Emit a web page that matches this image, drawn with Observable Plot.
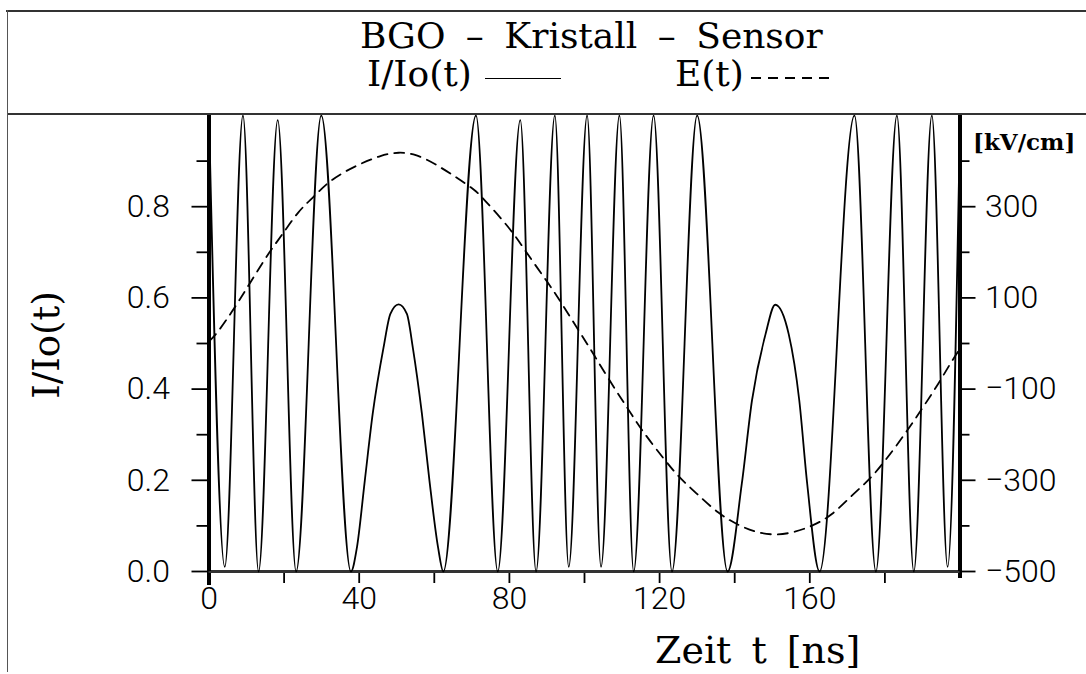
<!DOCTYPE html>
<html>
<head>
<meta charset="utf-8">
<script src="https://cdn.jsdelivr.net/npm/d3@7"></script>
<script src="https://cdn.jsdelivr.net/npm/@observablehq/plot@0.6"></script>
<style>
  body { margin: 0; background: #fff; }
  #wrap { position: relative; width: 1086px; height: 674px; background: #fff; overflow: hidden; }
  .abs { position: absolute; white-space: nowrap; }
  .serif { font-family: "DejaVu Serif", serif; color: #000; line-height: 1; }
</style>
</head>
<body>
<div id="wrap">
  <div id="plot" class="abs" style="left:0;top:0"></div>
  <!-- header frame -->
  <div class="abs" style="left:6px;top:10px;width:1080px;height:0;border-top:2px solid #333"></div>
  <div class="abs" style="left:7px;top:113px;width:1079px;height:0;border-top:2px solid #333"></div>
  <div class="abs" style="left:7px;top:10px;width:0;height:662px;border-left:1px solid #555"></div>
  <!-- title -->
  <div class="abs serif" style="left:360px;top:18px;font-size:36px;word-spacing:9px">BGO – Kristall – Sensor</div>
  <div class="abs serif" style="left:367px;top:56px;font-size:36px">I/Io(t)</div>
  <div class="abs" style="left:485px;top:78px;width:76px;height:0;border-top:1.6px solid #000"></div>
  <div class="abs serif" style="left:675px;top:56px;font-size:36px">E(t)</div>
  <div class="abs" style="left:751px;top:77px;width:80px;height:2px;background:repeating-linear-gradient(90deg,#000 0 10px,transparent 10px 17px)"></div>
  <!-- axis titles -->
  <div class="abs serif" style="left:655px;top:631px;font-size:38px;word-spacing:8px">Zeit t [ns]</div>
  <div class="abs" style="left:46px;top:345px;width:0;height:0">
    <span class="abs serif" style="left:0;top:0;font-size:37px;transform:translate(-50%,-50%) rotate(-90deg);transform-origin:center">I/Io(t)</span>
  </div>
  <div class="abs serif" style="left:973px;top:130px;font-size:23px;font-weight:bold">[kV/cm]</div>
</div>
<script>
// ---- data ----
// I/Io(t): time [ns] and normalized intensity
const tI = [0, 4.2, 9.05, 13.2, 18.3, 23.2, 29.9, 37.8, 39.4, 41.5, 43.6, 46.5, 48.3, 50.5, 52.7, 54.3, 56.7, 58.7, 61.0, 62.4,
            71.1, 76.9, 82.9, 87.1, 92.1, 95.8, 100.7, 104.4, 109.3, 113.1, 118.4, 123.3, 130.0, 138.1,
            141.9, 144.6, 148.2, 150.8, 154.4, 157.2, 159.3, 162.6, 171.9, 177.6, 183.2, 187.7, 192.5, 196.7, 200];
const I  = [1.0, 0.01, 1.0, 0.0, 0.99, 0.0, 1.0, 0.0, 0.053, 0.2, 0.346, 0.492, 0.565, 0.586, 0.565, 0.49, 0.346, 0.2, 0.053, 0.0,
            1.0, 0.0, 0.99, 0.0, 1.0, 0.01, 1.0, 0.01, 1.0, 0.0, 1.0, 0.0, 1.0, 0.0,
            0.193, 0.375, 0.52, 0.585, 0.52, 0.375, 0.193, 0.0, 1.0, 0.0, 1.0, 0.0, 1.0, 0.01, 0.98];
// E(t): time [ns] and field [kV/cm]
const tE = [0, 2, 7, 11, 16.3, 19.4, 23.9, 27.9, 31.9, 39, 46.1, 50.5, 54.9, 60.3, 66.5, 70.9, 72.7, 80.7, 84.7, 90.5, 94,
            98.5, 102.4, 106.4, 111.3, 115.3, 121.5, 125.1, 129.5, 135.7, 141.1, 145.5, 150.8, 156.1, 161, 165.9, 171.2,
            176.1, 180.1, 185.4, 189.9, 194.3, 197.9, 200];
const E  = [5, 20, 80, 134, 204, 237, 292, 321, 357, 390, 414, 420, 416, 394, 361, 336, 321, 248, 197, 131, 87,
            28, -23, -78, -140, -191, -257, -293, -326, -374, -399, -414, -421, -414, -399, -377, -333,
            -297, -257, -198, -143, -88, -37, -12];
// axes
const xDomain = [0, 200];
const xLabelTicks = [0, 40, 80, 120, 160];
const xMinorTicks = [20, 60, 100, 140, 180];
const yDomain = [0, 1];
const yLabelTicks = [0, 0.2, 0.4, 0.6, 0.8];
const yMinorTicks = [0.1, 0.3, 0.5, 0.7, 0.9];
const eDomain = [-500, 500];
const eLabelTicks = [-500, -300, -100, 100, 300];
const eMinorTicks = [-400, -200, 0, 200, 400];

const iData = tI.map((t, i) => ({t, v: I[i]}));
const eData = tE.map((t, i) => ({t, e: E[i]}));
const eToY = d3.scaleLinear().domain(eDomain).range(yDomain);
const yToE = eToY.invert;
const fmtE = v => { const n = Math.round(yToE(v)); return n < 0 ? "\u2212" + Math.abs(n) : String(n); };
const blank = () => "";

const tickFont = {fontSize: 32, fontFamily: "Roboto, 'DejaVu Sans', sans-serif", fontWeight: 300};

const chart = Plot.plot({
  width: 1086,
  height: 674,
  marginLeft: 208.5,
  marginRight: 126.5,
  marginTop: 115,
  marginBottom: 103,
  style: {background: "transparent", color: "#000", overflow: "visible"},
  x: {domain: xDomain},
  y: {domain: yDomain},
  marks: [
    // axes
    Plot.axisY({anchor: "left", ticks: yLabelTicks, tickSize: 17, tickPadding: 22, tickFormat: d3.format(".1f"), strokeWidth: 1.8, label: null, ...tickFont}),
    Plot.axisY({anchor: "left", ticks: yMinorTicks, tickSize: 12, tickFormat: blank, strokeWidth: 1.8, label: null}),
    Plot.axisY({anchor: "right", ticks: eLabelTicks.map(eToY), tickSize: 15, tickPadding: 10, tickFormat: fmtE, strokeWidth: 1.8, label: null, ...tickFont}),
    Plot.axisY({anchor: "right", ticks: eMinorTicks.map(eToY), tickSize: 9, tickFormat: blank, strokeWidth: 1.8, label: null}),
    Plot.axisX({ticks: xLabelTicks, tickSize: 12, tickPadding: 3, strokeWidth: 1.8, label: null, ...tickFont}),
    Plot.axisX({ticks: xMinorTicks, tickSize: 12, tickFormat: blank, strokeWidth: 1.8, label: null}),
    Plot.axisX({ticks: [0], tickSize: 14, tickFormat: blank, strokeWidth: 4, label: null}),
    Plot.axisX({ticks: [200], tickSize: 7, tickFormat: blank, strokeWidth: 4, label: null}),
    Plot.ruleY([0], {stroke: "#333", strokeWidth: 3}),
    Plot.ruleX([0], {stroke: "#000", strokeWidth: 4}),
    Plot.ruleX([200], {stroke: "#000", strokeWidth: 4}),
    // data
    Plot.line(eData, {x: "t", y: d => eToY(d.e), curve: "basis", stroke: "#000", strokeWidth: 1.8, strokeDasharray: "10,7"}),
    Plot.line(iData, {x: "t", y: "v", curve: "monotone-x", stroke: "#000", strokeWidth: 1.8})
  ]
});
document.getElementById("plot").appendChild(chart);
</script>
</body>
</html>
